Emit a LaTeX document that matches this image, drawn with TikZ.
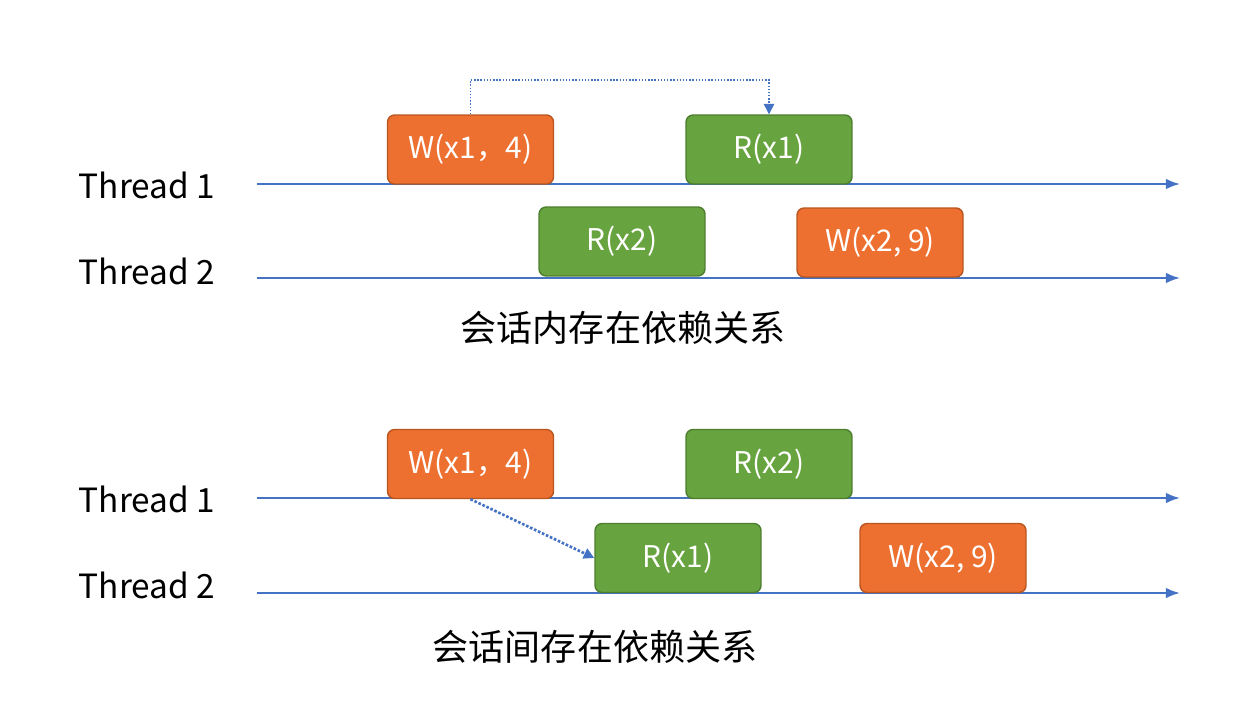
\documentclass[tikz,border=0pt]{standalone}
\usepackage{fontspec}
\setmainfont{Noto Sans CJK SC}
\usetikzlibrary{positioning,arrows.meta}
\definecolor{wcol}{HTML}{ED7031}
\definecolor{wbor}{HTML}{B9561F}
\definecolor{rcol}{HTML}{67A33F}
\definecolor{rbor}{HTML}{4C7E2E}
\definecolor{lcol}{HTML}{4472C4}
\tikzset{
  op/.style={rounded corners=4pt, minimum width=3.32cm, minimum height=1.38cm, line width=0.8pt, text=white, font=\fontsize{17}{20}\selectfont, inner sep=0pt},
  wop/.style={op, fill=wcol, draw=wbor},
  rop/.style={op, fill=rcol, draw=rbor},
  thr/.style={font=\fontsize{19}{22}\selectfont},
  tl/.style={line width=1.2pt, lcol, -{Latex[length=8pt,width=6pt]}},
  dep/.style={lcol, densely dotted, -{Triangle[length=6pt,width=6pt]}}
}
\begin{document}
\begin{tikzpicture}[x=0.02cm,y=-0.02cm]
		\useasboundingbox (0,0) rectangle (1246,719);
		% upper part
		\coordinate (a1) at (257,184);
		\coordinate (b1) at (1180,184);
		\coordinate (a2) at (257,278);
		\coordinate (b2) at (1180,278);
		\draw[tl] (a1)--(b1);
		\draw[tl] (a2)--(b2);
		\node[thr] (t1) at (147,185) {Thread 1};
		\node[thr] (t2) at (147,271) {Thread 2};
		\node[wop] (w1) at (470.5,149.5) {W(x1，4)};
		\node[rop] (r1) at (769,149.5) {R(x1)};
		\node[rop] (r2) at (622,241.5) {R(x2)};
		\node[wop] (w2) at (880,242.5) {W(x2, 9)};
		\coordinate (up) at (0,80);
		\draw[dep, thick] (w1.north) |- (up -| r1.north) -- (r1.north);
		\node[font=\fontsize{20.5}{24}\selectfont] (c1) at (623,328) {会话内存在依赖关系};
		% lower part
		\coordinate (a3) at (257,498);
		\coordinate (b3) at (1180,498);
		\coordinate (a4) at (257,593);
		\coordinate (b4) at (1180,593);
		\draw[tl] (a3)--(b3);
		\draw[tl] (a4)--(b4);
		\node[thr] (t3) at (147,499) {Thread 1};
		\node[thr] (t4) at (147,585) {Thread 2};
		\node[wop] (w3) at (470.5,464) {W(x1，4)};
		\node[rop] (r3) at (769,464) {R(x2)};
		\node[rop] (r4) at (678,558) {R(x1)};
		\node[wop] (w4) at (943,558) {W(x2, 9)};
		\draw[dep, line width=1.5pt] (w3.south) -- (r4.west);
		\node[font=\fontsize{20.5}{24}\selectfont] (c2) at (595,647) {会话间存在依赖关系};
\end{tikzpicture}
\end{document}
